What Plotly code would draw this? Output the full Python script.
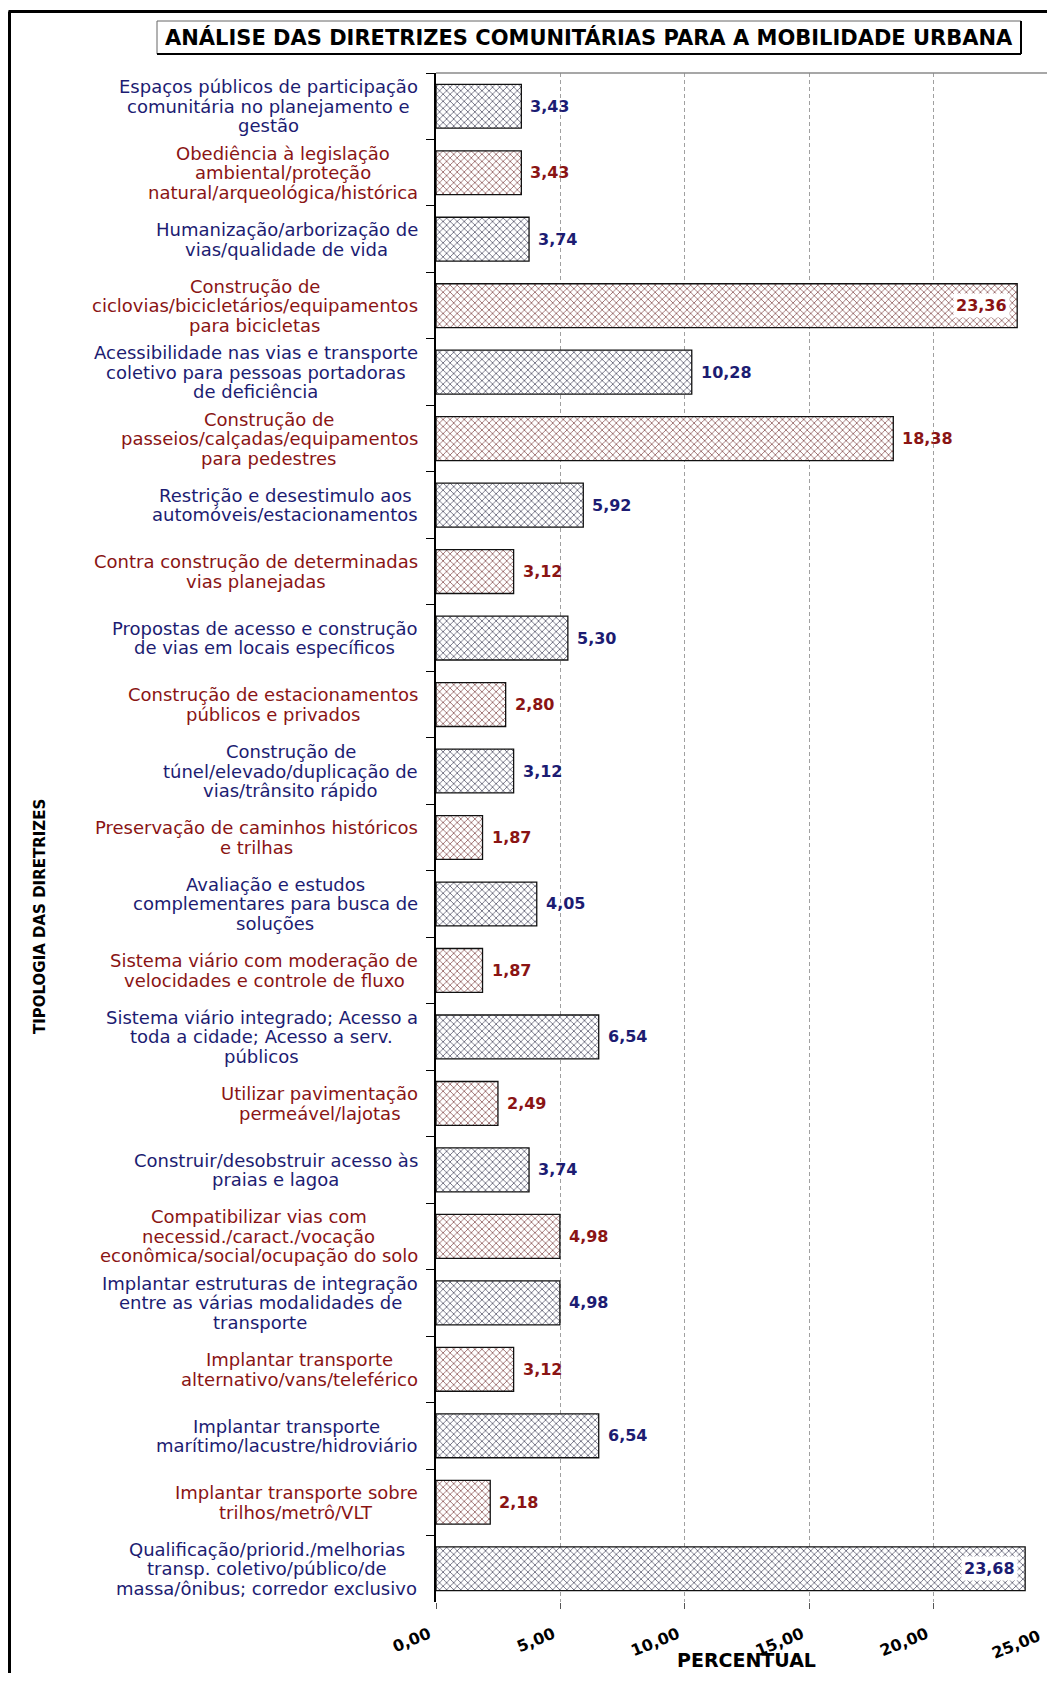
import unicodedata
import plotly.graph_objects as go

categories = [
    "Espaços públicos de participação<br>comunitária no planejamento e<br>gestão",
    "Obediência à legislação<br>ambiental/proteção<br>natural/arqueológica/histórica",
    "Humanização/arborização de<br>vias/qualidade de vida",
    "Construção de<br>ciclovias/bicicletários/equipamentos<br>para bicicletas",
    "Acessibilidade nas vias e transporte<br>coletivo para pessoas portadoras<br>de deficiência",
    "Construção de<br>passeios/calçadas/equipamentos<br>para pedestres",
    "Restrição e desestimulo aos<br>automóveis/estacionamentos",
    "Contra construção de determinadas<br>vias planejadas",
    "Propostas de acesso e construção<br>de vias em locais específicos",
    "Construção de estacionamentos<br>públicos e privados",
    "Construção de<br>túnel/elevado/duplicação de<br>vias/trânsito rápido",
    "Preservação de caminhos históricos<br>e trilhas",
    "Avaliação e estudos<br>complementares para busca de<br>soluções",
    "Sistema viário com moderação de<br>velocidades e controle de fluxo",
    "Sistema viário integrado; Acesso a<br>toda a cidade; Acesso a serv.<br>públicos",
    "Utilizar pavimentação<br>permeável/lajotas",
    "Construir/desobstruir acesso às<br>praias e lagoa",
    "Compatibilizar vias com<br>necessid./caract./vocação<br>econômica/social/ocupação do solo",
    "Implantar estruturas de integração<br>entre as várias modalidades de<br>transporte",
    "Implantar transporte<br>alternativo/vans/teleférico",
    "Implantar transporte<br>marítimo/lacustre/hidroviário",
    "Implantar transporte sobre<br>trilhos/metrô/VLT",
    "Qualificação/priorid./melhorias<br>transp. coletivo/público/de<br>massa/ônibus; corredor exclusivo",
]
values = [3.43, 3.43, 3.74, 23.36, 10.28, 18.38, 5.92, 3.12, 5.30, 2.80, 3.12, 1.87,
          4.05, 1.87, 6.54, 2.49, 3.74, 4.98, 4.98, 3.12, 6.54, 2.18, 23.68]
x_ticks = [0, 5, 10, 15, 20, 25]
x_ticklabels = ["0,00", "5,00", "10,00", "15,00", "20,00", "25,00"]

title_text = "ANÁLISE DAS DIRETRIZES COMUNITÁRIAS PARA A MOBILIDADE URBANA"
x_title = "PERCENTUAL"
y_title = "TIPOLOGIA DAS DIRETRIZES"

BLUE_TXT = "#1c1c72"
RED_TXT = "#8a1414"
BLUE_PAT = "#34344e"
RED_PAT = "#743434"

OFF = 8  # page body margin
W, H = 1055 - 2 * OFF, 1681 - 2 * OFF
L, R, T, B = 436 - OFF, W, 73 - OFF, 1602 - OFF
PX_PER_UNIT = 24.88
X_MAX = (R - L) / PX_PER_UNIT  # visible part of the 0..25 axis
LINE = 19.6
LABEL_SIZE = 18
LABEL_RIGHT = 418  # right edge of the category label blocks (page px)

# approximate DejaVu Sans advance widths (units of 1/2048 em), used to centre lines
_DV = {" ": 651, ".": 651, ",": 651, ";": 690, ":": 690, "/": 690,
       "a": 1255, "b": 1300, "c": 1126, "d": 1300, "e": 1260, "f": 721, "g": 1300, "h": 1298,
       "i": 569, "j": 569, "k": 1186, "l": 569, "m": 1995, "n": 1298, "o": 1253, "p": 1300,
       "q": 1300, "r": 842, "s": 1067, "t": 803, "u": 1298, "v": 1212, "w": 1675, "x": 1212,
       "y": 1212, "z": 1075,
       "A": 1401, "B": 1405, "C": 1430, "D": 1577, "E": 1294, "F": 1178, "G": 1587, "H": 1540,
       "I": 604, "J": 604, "K": 1343, "L": 1141, "M": 1767, "N": 1532, "O": 1612, "P": 1235,
       "Q": 1612, "R": 1423, "S": 1300, "T": 1251, "U": 1499, "V": 1401, "W": 2025, "X": 1403,
       "Y": 1251, "Z": 1403}


def text_w(s, size):
    tot = 0
    for ch in s:
        base = unicodedata.normalize("NFD", ch)[0]
        tot += _DV.get(base, 1250)
    return tot / 2048 * size


def px_x(p):
    return (p - OFF - L) / (R - L)


def px_y(p):
    return (B - (p - OFF)) / (B - T)


is_blue = [i % 2 == 0 for i in range(len(categories))]
txt_colors = [BLUE_TXT if b else RED_TXT for b in is_blue]
pat_colors = [BLUE_PAT if b else RED_PAT for b in is_blue]

fig = go.Figure()
fig.add_trace(go.Bar(
    x=values,
    y=categories,
    orientation="h",
    marker=dict(
        color="white",
        line=dict(color="#111111", width=1.3),
        pattern=dict(shape="x", size=5, solidity=0.24, fgcolor=pat_colors, bgcolor="white", fillmode="replace"),
    ),
    hoverinfo="x+y",
    showlegend=False,
))

annotations = []
for cat, col in zip(categories, txt_colors):
    lines = cat.split("<br>")
    n = len(lines)
    maxw = max(text_w(ln, LABEL_SIZE) for ln in lines)
    cx = LABEL_RIGHT - maxw / 2
    for k, ln in enumerate(lines):
        annotations.append(dict(
            xref="paper", yref="y", x=px_x(cx), y=cat, xanchor="center", yanchor="middle",
            yshift=((n - 1) / 2 - k) * LINE, showarrow=False, text=ln,
            font=dict(family="DejaVu Sans", size=LABEL_SIZE, color=col),
        ))
for cat, v, col in zip(categories, values, txt_colors):
    lab = f"{v:.2f}".replace(".", ",")
    inside = v > 20
    annotations.append(dict(
        xref="x", yref="y", x=v, y=cat, showarrow=False, text=lab,
        xanchor="right" if inside else "left", yanchor="middle",
        xshift=-7 if inside else 6,
        bgcolor="white" if inside else None,
        borderpad=2,
        font=dict(family="DejaVu Sans", size=16, color=col, weight="bold"),
    ))
# tick labels beyond the visible edge of the axis (the axis runs to 25)
for tv, tl in zip(x_ticks, x_ticklabels):
    if tv > X_MAX:
        annotations.append(dict(
            xref="paper", yref="paper", x=tv / X_MAX, y=px_y(1624), xanchor="right", yanchor="top",
            xshift=-12, showarrow=False, text=tl, textangle=-22,
            font=dict(family="DejaVu Sans", size=16, color="black", weight="bold"),
        ))
annotations.append(dict(
    xref="paper", yref="paper", x=px_x(589), y=px_y(37.5), xanchor="center", yanchor="middle",
    showarrow=False, text=title_text,
    font=dict(family="DejaVu Sans", size=21, color="black", weight="bold"),
))
annotations.append(dict(
    xref="paper", yref="paper", x=px_x(40), y=px_y(917), xanchor="center", yanchor="middle",
    showarrow=False, text=y_title, textangle=-90,
    font=dict(family="DejaVu Sans", size=15, color="black", weight="bold"),
))
annotations.append(dict(
    xref="paper", yref="paper", x=px_x(746), y=px_y(1660), xanchor="center", yanchor="middle",
    showarrow=False, text=x_title,
    font=dict(family="DejaVu Sans", size=19, color="black", weight="bold"),
))

shapes = [
    dict(type="line", xref="paper", yref="paper", x0=px_x(8.5), x1=px_x(1070), y0=px_y(11.5), y1=px_y(11.5),
         line=dict(color="black", width=3)),
    dict(type="line", xref="paper", yref="paper", x0=px_x(9.5), x1=px_x(9.5), y0=px_y(11.5), y1=px_y(1700),
         line=dict(color="black", width=3)),
    dict(type="rect", xref="paper", yref="paper", x0=px_x(157), x1=px_x(1021), y0=px_y(21), y1=px_y(54),
         line=dict(color="#666666", width=1)),
    dict(type="line", xref="paper", yref="paper", x0=px_x(1021), x1=px_x(1021), y0=px_y(21), y1=px_y(54),
         line=dict(color="black", width=2)),
    dict(type="line", xref="paper", yref="paper", x0=px_x(157), x1=px_x(1021), y0=px_y(54), y1=px_y(54),
         line=dict(color="black", width=2)),
    dict(type="line", xref="paper", yref="paper", x0=0, x1=1, y0=1, y1=1,
         line=dict(color="#8a8a8a", width=1.5)),
]

fig.update_layout(
    width=W, height=H,
    margin=dict(l=L, r=W - R, t=T, b=H - B, pad=0),
    paper_bgcolor="white", plot_bgcolor="white",
    separators=",.",
    bargap=0.34,
    annotations=annotations,
    shapes=shapes,
    font=dict(family="DejaVu Sans", color="black"),
)
fig.update_xaxes(
    range=[0, X_MAX], tickvals=x_ticks, ticktext=x_ticklabels, tickangle=-22,
    showgrid=True, gridcolor="#a0a0a0", griddash="4px,3px", gridwidth=1,
    zeroline=False, showline=False,
    ticks="outside", ticklen=6, tickcolor="#555555", ticklabelstandoff=10, ticklabelshift=-7,
    tickfont=dict(family="DejaVu Sans", size=16, color="black", weight="bold"),
)
fig.update_yaxes(
    type="category", autorange="reversed", showticklabels=False,
    tickson="boundaries", ticks="outside", ticklen=8, tickcolor="black", tickwidth=1,
    showline=True, linecolor="black", linewidth=1.5, showgrid=False, zeroline=False,
)

fig.write_html("out.html")
